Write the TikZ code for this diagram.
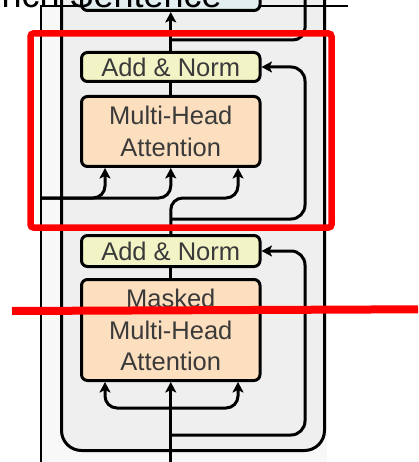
\documentclass[tikz,border=0pt]{standalone}
\usepackage{fontspec}
\setmainfont{Liberation Sans}
\usetikzlibrary{arrows.meta}
\definecolor{normfill}{HTML}{F2F4C6}
\definecolor{attfill}{HTML}{FCDFBE}
\definecolor{fffill}{HTML}{E2EEF0}
\definecolor{blockfill}{HTML}{EFEFEF}
\definecolor{pagefill}{HTML}{F8F8F8}
\definecolor{labelgray}{HTML}{3A3A3A}
\definecolor{markred}{HTML}{FF0000}

\begin{document}
\begin{tikzpicture}[x=1pt,y=-1pt,
  layerbox/.style={draw=black, line width=3pt, rounded corners=6pt, inner sep=0pt,
    minimum width=178.5pt, text=labelgray, align=center,
    font=\fontsize{25.5}{31.5}\selectfont},
  normbox/.style={layerbox, fill=normfill},
  attbox/.style={layerbox, fill=attfill},
  ffbox/.style={layerbox, fill=fffill},
  wire/.style={draw=black, line width=3pt, rounded corners=12pt},
  flow/.style={wire, -{Stealth[length=10.5pt,width=11pt,inset=2.5pt]}},
  highlight/.style={draw=markred, line width=6.5pt}
  ]
\useasboundingbox (0,0) rectangle (418,462);
\clip (0,0) rectangle (418,462);

% page and frame of the inserted figure
\fill[white] (0,0) rectangle (418,462);
\fill[pagefill] (41,6) rectangle (327,462);

% decoder block outline
\draw[line width=3pt, fill=blockfill, rounded corners=20pt] (61.5,-40) rectangle (324.5,450.5);
\draw[line width=1.2pt] (41,462) -- (41,6) -- (348,6);

% layers
\node[ffbox, minimum height=61pt] (FF) at (170.75,-20) {};
\node[normbox, minimum height=29pt] (AN1) at (170.75,67) {Add \& Norm};
\node[attbox, minimum height=70pt] (MHA) at (170.75,131.5) {Multi-Head\\Attention};
\node[normbox, minimum height=31pt] (AN2) at (170.75,251) {Add \& Norm};
\node[attbox, minimum height=101pt] (MMHA) at (170.75,330) {Masked\\Multi-Head\\Attention};

% lanes and turning points
\coordinate (laneL) at (105,0);
\coordinate (laneR) at (238,0);
\coordinate (resx) at (305,0);
\coordinate (fork1) at (170.75,40);
\coordinate (ffup) at (305,-20);
\coordinate (fork2) at (170.75,219);
\coordinate (enc) at (42,198);
\coordinate (qturn) at (238,198);
\coordinate (fork3) at (170.75,408);
\coordinate (fork4) at (170.75,435);
\coordinate (inbottom) at (170.75,470);

% upper sub-layer
\draw[flow] (AN1.north) -- (FF.south);
\draw[wire] (fork1) -| (ffup);
\draw[wire] (MHA.north) -- (AN1.south);
\draw[flow, rounded corners=14pt] (fork2) -| (AN1.east -| resx) -- (AN1.east);
\draw[flow] (enc) -| (MHA.south -| laneL);
\draw[flow] (enc) -| (MHA.south);
\draw[flow] (AN2.north) |- (qturn) -- (MHA.south -| qturn);

% lower sub-layer
\draw[wire] (MMHA.north) -- (AN2.south);
\draw[flow] (inbottom) -- (MMHA.south);
\draw[flow] (fork3) -| (MMHA.south -| laneL);
\draw[flow] (fork3) -| (MMHA.south -| laneR);
\draw[flow, rounded corners=14pt] (fork4) -| (AN2.east -| resx) -- (AN2.east);

% caption of the output, running off the top
\node[anchor=base east, inner sep=0pt, font=\fontsize{36}{36}\selectfont] (caption) at (222,7.5) {French Sentence};

% red markings
\draw[highlight, rounded corners=3pt] (30.5,33.5) rectangle (331.5,227.5);
\draw[draw=markred, line width=8pt] (12,311) -- (418,309.3);
\end{tikzpicture}
\end{document}
